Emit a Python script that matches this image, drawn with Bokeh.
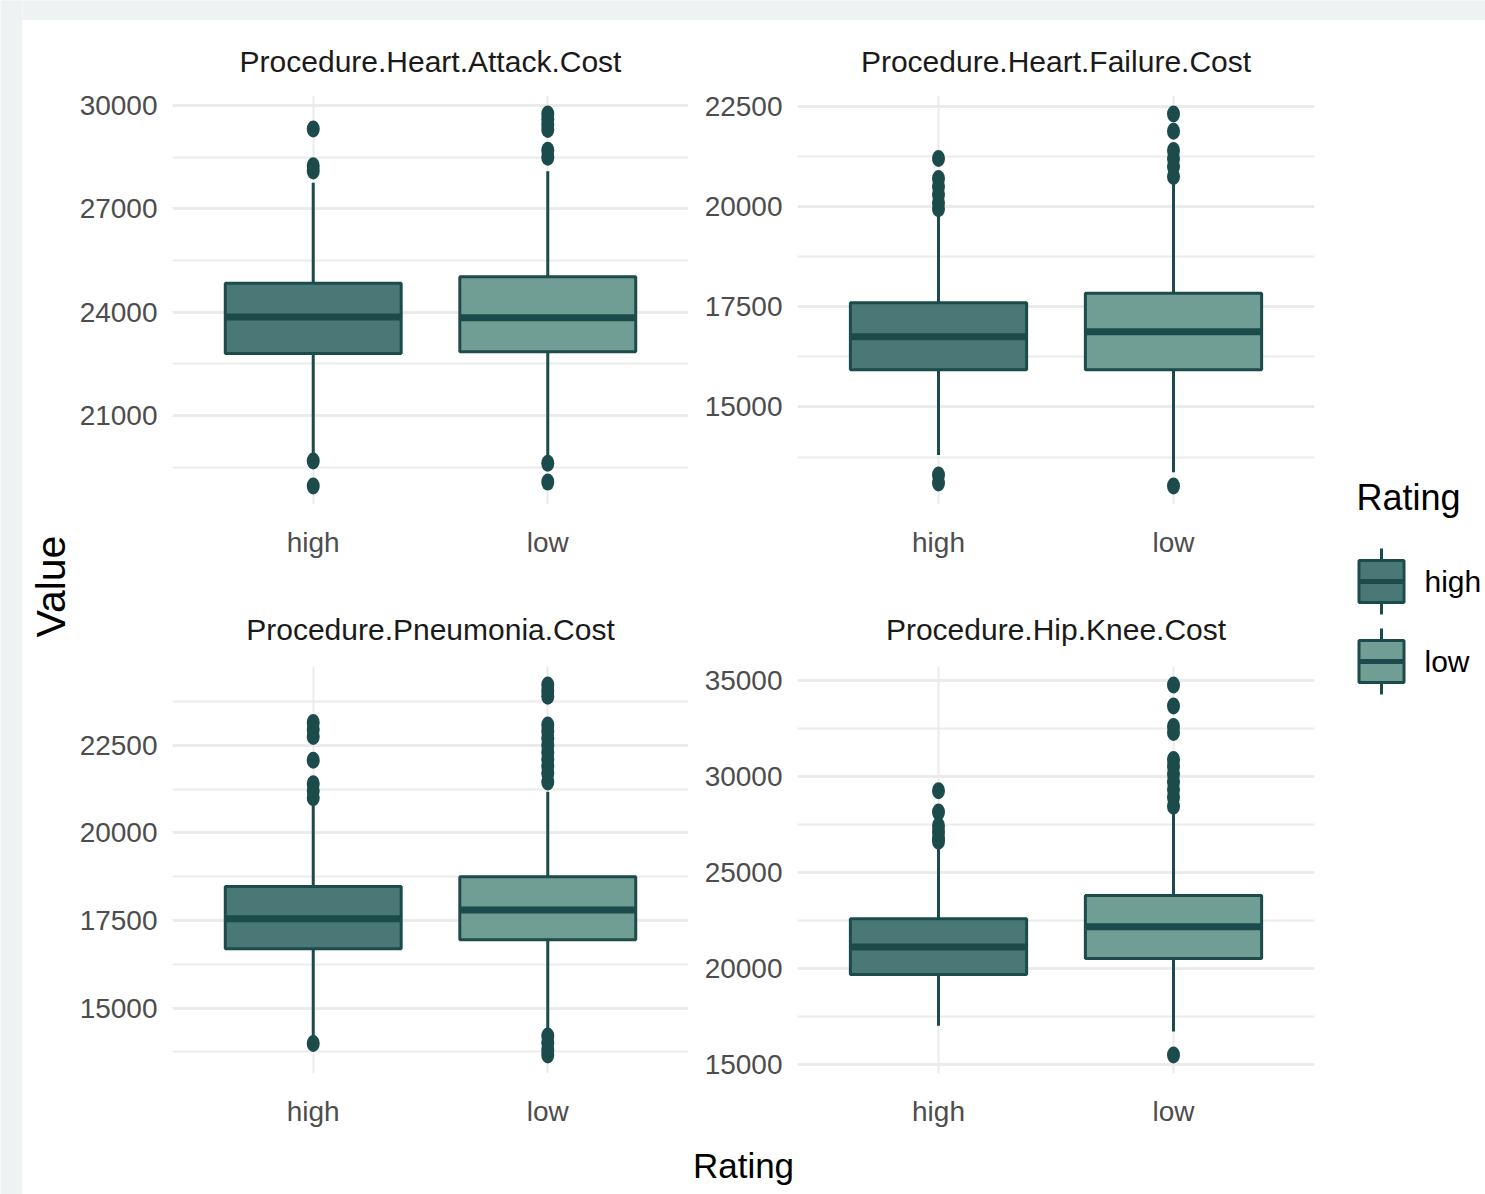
import math
from bokeh.plotting import figure
from bokeh.models import FactorRange, Range1d, FixedTicker
from bokeh.layouts import row, column
from bokeh.embed import file_html
from bokeh.resources import INLINE
from bokeh.core.properties import value

# ---------------- data ----------------
categories = ["high", "low"]
panel_titles = ["Procedure.Heart.Attack.Cost", "Procedure.Heart.Failure.Cost",
                "Procedure.Pneumonia.Cost", "Procedure.Hip.Knee.Cost"]

heart_attack_q1 = [22800, 22850]
heart_attack_median = [23860, 23840]
heart_attack_q3 = [24840, 25030]
heart_attack_whisker_low = [19850, 19850]
heart_attack_whisker_high = [27760, 28090]
heart_attack_out_high = [29320, 28250, 28100, 19680, 18960]
heart_attack_out_low = [29750, 29600, 29450, 29300, 28700, 28500, 19620, 19070]
heart_attack_ticks = [21000, 24000, 27000, 30000]
heart_attack_minor = [19500, 22500, 25500, 28500]

heart_failure_q1 = [15930, 15930]
heart_failure_median = [16750, 16880]
heart_failure_q3 = [17600, 17840]
heart_failure_whisker_low = [13800, 13370]
heart_failure_whisker_high = [19800, 20580]
heart_failure_out_high = [21200, 20700, 20500, 20300, 20100, 19950, 13300, 13100]
heart_failure_out_low = [22310, 21880, 21400, 21200, 21000, 20750, 13030]
heart_failure_ticks = [15000, 17500, 20000, 22500]
heart_failure_minor = [13750, 16250, 18750, 21250]

pneumonia_q1 = [16690, 16950]
pneumonia_median = [17550, 17800]
pneumonia_q3 = [18470, 18750]
pneumonia_whisker_low = [14200, 14370]
pneumonia_whisker_high = [20850, 21170]
pneumonia_out_high = [23150, 22950, 22750, 22070, 21400, 21200, 21000, 13990]
pneumonia_out_low = [24220, 24050, 23900, 23080, 22900, 22700, 22500, 22300, 22100,
                     21900, 21700, 21450, 14200, 14000, 13800, 13660]
pneumonia_ticks = [15000, 17500, 20000, 22500]
pneumonia_minor = [13750, 16250, 18750, 21250, 23750]

hip_knee_q1 = [19690, 20520]
hip_knee_median = [21120, 22170]
hip_knee_q3 = [22580, 23790]
hip_knee_whisker_low = [17020, 16720]
hip_knee_whisker_high = [26310, 28130]
hip_knee_out_high = [29240, 28130, 27420, 27100, 26800, 26620]
hip_knee_out_low = [34740, 33650, 32580, 32270, 30860, 30500, 30100, 29700, 29300,
                    28900, 28440, 15500]
hip_knee_ticks = [15000, 20000, 25000, 30000, 35000]
hip_knee_minor = [17500, 22500, 27500, 32500]

x_title = "Rating"
y_title = "Value"
legend_title = "Rating"

# ---------------- style ----------------
FILLS = ["#4a7876", "#719e94"]
DARK = "#1b4b4a"
GRID = "#ebebeb"
BG = "#eef2f2"
FONT = "Liberation Sans"


def blank(width, height, fill="white", x_end=None):
    f = figure(width=width, height=height, output_backend="svg", toolbar_location=None,
               x_range=Range1d(0, width if x_end is None else x_end),
               y_range=Range1d(height, 0),
               x_axis_location=None, y_axis_location=None,
               min_border=0, min_border_left=0, min_border_right=0,
               min_border_top=0, min_border_bottom=0,
               outline_line_color=None,
               background_fill_color=fill, border_fill_color=fill)
    f.grid.visible = False
    return f


def make_panel(title, q1, med, q3, wlo, whi, out_hi, out_lo, ticks, minor,
               width, strip_h, height, bl, br, bt, bb, title_y):
    vals = q1 + med + q3 + wlo + whi + out_hi + out_lo
    lo, hi = min(vals), max(vals)
    pad = 0.05 * (hi - lo)
    p = figure(x_range=FactorRange(*categories, range_padding=0.1),
               y_range=Range1d(lo - pad, hi + pad),
               width=width, height=height, output_backend="svg",
               toolbar_location=None,
               min_border_left=bl, min_border_right=br,
               min_border_top=bt, min_border_bottom=bb,
               background_fill_color="white", border_fill_color="white",
               outline_line_color=None)

    p.xgrid.grid_line_color = GRID
    p.xgrid.grid_line_width = 2
    p.ygrid.grid_line_color = GRID
    p.ygrid.grid_line_width = 3
    p.ygrid.minor_grid_line_color = GRID
    p.ygrid.minor_grid_line_width = 2

    p.yaxis.ticker = FixedTicker(ticks=ticks, minor_ticks=minor)
    for ax in (p.xaxis[0], p.yaxis[0]):
        ax.axis_line_color = None
        ax.major_tick_line_color = None
        ax.minor_tick_line_color = None
        ax.major_tick_out = 0
        ax.minor_tick_out = 0
        ax.major_label_text_font = FONT
        ax.major_label_text_font_size = "28px"
        ax.major_label_text_color = "#4d4d4d"
    p.yaxis.major_label_standoff = 15
    p.xaxis.major_label_standoff = 22

    cats_hi = [categories[0]] * len(out_hi)
    cats_lo = [categories[1]] * len(out_lo)
    # whiskers
    p.segment(x0=categories, y0=q3, x1=categories, y1=whi, line_color=DARK, line_width=3)
    p.segment(x0=categories, y0=q1, x1=categories, y1=wlo, line_color=DARK, line_width=3)
    # outliers
    p.ellipse(x=cats_hi + cats_lo, y=out_hi + out_lo, width=13, height=17,
              width_units="screen", height_units="screen",
              fill_color=DARK, line_color=None)
    # boxes
    p.vbar(x=categories, width=0.75, bottom=q1, top=q3, fill_color=FILLS,
           line_color=DARK, line_width=3)
    # medians
    p.rect(x=categories, y=med, width=0.75, height=7, height_units="screen",
           fill_color=DARK, line_color=None)

    # facet strip with the panel title (its frame lines up with the panel frame)
    s = blank(width, strip_h, x_end=1)
    s.text(x=[0.5], y=[title_y], text=[title],
           text_align="center", text_baseline="middle",
           text_font=value(FONT), text_font_size="30px", text_color="#1a1a1a")
    return column(s, p)


# top row: strip 62 + panel 498 (top 13, frame 409, bottom 76)
# bottom row: strip 72 + panel 483 (top 14, frame 407, bottom 62)
p1 = make_panel(panel_titles[0], heart_attack_q1, heart_attack_median, heart_attack_q3,
                heart_attack_whisker_low, heart_attack_whisker_high,
                heart_attack_out_high, heart_attack_out_low,
                heart_attack_ticks, heart_attack_minor, 618, 62, 498, 97, 5, 13, 76, 41)
p2 = make_panel(panel_titles[1], heart_failure_q1, heart_failure_median, heart_failure_q3,
                heart_failure_whisker_low, heart_failure_whisker_high,
                heart_failure_out_high, heart_failure_out_low,
                heart_failure_ticks, heart_failure_minor, 627, 62, 498, 104, 6, 13, 76, 41)
p3 = make_panel(panel_titles[2], pneumonia_q1, pneumonia_median, pneumonia_q3,
                pneumonia_whisker_low, pneumonia_whisker_high,
                pneumonia_out_high, pneumonia_out_low,
                pneumonia_ticks, pneumonia_minor, 618, 72, 483, 97, 5, 14, 62, 49)
p4 = make_panel(panel_titles[3], hip_knee_q1, hip_knee_median, hip_knee_q3,
                hip_knee_whisker_low, hip_knee_whisker_high,
                hip_knee_out_high, hip_knee_out_low,
                hip_knee_ticks, hip_knee_minor, 627, 72, 483, 104, 6, 14, 62, 49)

# y-axis title
ylab = blank(53, 1174)
ylab.text(x=[28], y=[566], text=[y_title], angle=math.pi / 2,
          text_align="center", text_baseline="middle",
          text_font=value(FONT), text_font_size="41px", text_color="black")

# x-axis title
xlab = blank(1245, 59)
xlab.text(x=[668], y=[30], text=[x_title], text_align="center", text_baseline="middle",
          text_font=value(FONT), text_font_size="35px", text_color="black")

# legend
leg = blank(165, 1174)
leg.text(x=[36], y=[477], text=[legend_title], text_align="left", text_baseline="middle",
         text_font=value(FONT), text_font_size="36px", text_color="black")
key_cy = [561, 641]
key_x = [61, 61]
leg.segment(x0=key_x, y0=[c - 33 for c in key_cy], x1=key_x, y1=[c + 33 for c in key_cy],
            line_color=DARK, line_width=3)
leg.rect(x=key_x, y=key_cy, width=45, height=42, fill_color=FILLS, line_color=DARK,
         line_width=3)
leg.rect(x=key_x, y=key_cy, width=45, height=5, fill_color=DARK, line_color=None)
leg.text(x=[104, 104], y=key_cy, text=categories, text_align="left", text_baseline="middle",
         text_font=value(FONT), text_font_size="30px", text_color="black")

grey_left = blank(22, 1194, fill=BG)
grey_top = blank(1463, 20, fill=BG)

panels = column(row(p1, p2), row(p3, p4), xlab)
main = row(ylab, panels, leg)
layout = row(grey_left, column(grey_top, main))

open("out.html", "w").write(file_html(layout, INLINE))
